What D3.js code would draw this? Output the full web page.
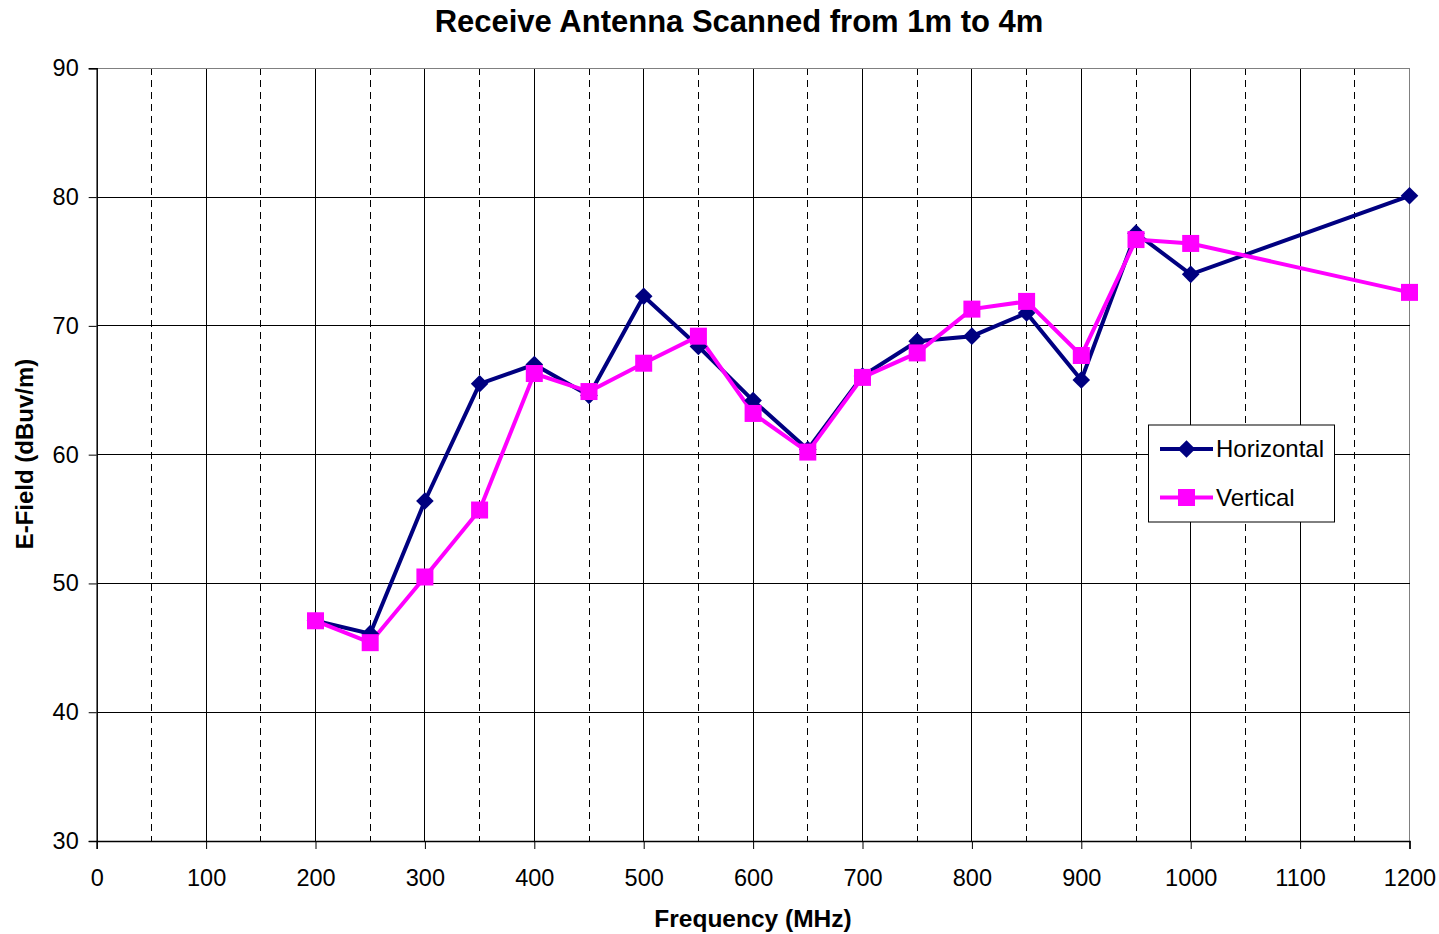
<!DOCTYPE html>
<html>
<head>
<meta charset="utf-8">
<script src="https://cdn.jsdelivr.net/npm/d3@7"></script>
<style>
  html, body { margin: 0; padding: 0; background: #fff; }
  svg { display: block; font-family: "Liberation Sans", Arial, sans-serif; }
</style>
</head>
<body>
<svg id="chart" width="1439" height="934"></svg>
<script>
// Measured field strength versus frequency, both antenna polarisations
const frequencies = [200, 250, 300, 350, 400, 450, 500, 550, 600, 650, 700, 750, 800, 850, 900, 950, 1000, 1200];
const horizontal  = [47.1, 46.1, 56.4, 65.5, 67.0, 64.6, 72.3, 68.4, 64.2, 60.4, 66.1, 68.8, 69.2, 71.0, 65.8, 77.2, 74.0, 80.1];
const vertical    = [47.1, 45.4, 50.5, 55.7, 66.3, 64.9, 67.1, 69.2, 63.2, 60.2, 66.0, 67.9, 71.3, 71.9, 67.7, 76.7, 76.4, 72.6];

const xTicks = [0, 100, 200, 300, 400, 500, 600, 700, 800, 900, 1000, 1100, 1200];
const xMidLines = [50, 150, 250, 350, 450, 550, 650, 750, 850, 950, 1050, 1150];
const yTicks = [30, 40, 50, 60, 70, 80, 90];

const seriesNames = ["Horizontal", "Vertical"];
const seriesColors = ["#000080", "#FF00FF"];

const svg = d3.select("#chart");
const plotLeft = 96.7, plotRight = 1409.5, plotTop = 68.3, plotBottom = 841;

const x = d3.scaleLinear().domain([0, 1200]).range([plotLeft, plotRight]);
const y = d3.scaleLinear().domain([30, 90]).range([plotBottom, plotTop]);

// Dashed half-step vertical grid
svg.append("g").selectAll("line").data(xMidLines).join("line")
  .attr("x1", d => x(d)).attr("x2", d => x(d))
  .attr("y1", plotTop).attr("y2", plotBottom)
  .attr("stroke", "#000").attr("stroke-width", 1)
  .attr("stroke-dasharray", "7,5")
  .attr("shape-rendering", "crispEdges");

// Solid vertical grid
svg.append("g").selectAll("line").data(xTicks.slice(1)).join("line")
  .attr("x1", d => x(d)).attr("x2", d => x(d))
  .attr("y1", plotTop).attr("y2", plotBottom)
  .attr("stroke", d => d === 1200 ? "#808080" : "#000").attr("stroke-width", 1)
  .attr("shape-rendering", "crispEdges");

// Horizontal grid
svg.append("g").selectAll("line").data(yTicks.slice(1)).join("line")
  .attr("x1", plotLeft).attr("x2", plotRight)
  .attr("y1", d => y(d)).attr("y2", d => y(d))
  .attr("stroke", d => d === 90 ? "#808080" : "#000").attr("stroke-width", 1)
  .attr("shape-rendering", "crispEdges");

// Axes
const xAxis = d3.axisBottom(x).tickValues(xTicks).tickSize(8).tickPadding(20).tickFormat(d3.format("d"));
const yAxis = d3.axisLeft(y).tickValues(yTicks).tickSize(8).tickPadding(10).tickFormat(d3.format("d"));

const gx = svg.append("g").attr("transform", `translate(0,${plotBottom})`).call(xAxis);
const gy = svg.append("g").attr("transform", `translate(${plotLeft},0)`).call(yAxis);
[gx, gy].forEach(g => {
  g.select(".domain").attr("stroke", "#000").attr("stroke-width", 1.5);
  g.selectAll(".tick line").attr("stroke", "#000").attr("stroke-width", 1);
  g.selectAll(".tick text").attr("fill", "#000")
    .style("font-family", "'Liberation Sans', Arial, sans-serif").style("font-size", "23.5px");
});

// Series lines and markers
const series = [horizontal, vertical];
const line = d3.line().x((d, i) => x(frequencies[i])).y(d => y(d));

series.forEach((vals, s) => {
  svg.append("path").datum(vals)
    .attr("d", line)
    .attr("fill", "none")
    .attr("stroke", seriesColors[s])
    .attr("stroke-width", 4)
    .attr("stroke-linejoin", "miter");
});

function drawMarker(g, s, cx, cy) {
  if (s === 0) {
    const r = 8.8;
    g.append("path")
      .attr("d", `M${cx},${cy - r}L${cx + r},${cy}L${cx},${cy + r}L${cx - r},${cy}Z`)
      .attr("fill", seriesColors[s]);
  } else {
    const h = 8.5;
    g.append("rect")
      .attr("x", cx - h).attr("y", cy - h)
      .attr("width", 2 * h).attr("height", 2 * h)
      .attr("fill", seriesColors[s]);
  }
}

series.forEach((vals, s) => {
  const g = svg.append("g");
  vals.forEach((v, i) => drawMarker(g, s, x(frequencies[i]), y(v)));
});

// Legend
const lg = svg.append("g");
lg.append("rect")
  .attr("x", 1148.5).attr("y", 425).attr("width", 186).attr("height", 97)
  .attr("fill", "#fff").attr("stroke", "#000").attr("stroke-width", 1);
const rowsY = [449, 497.5];
seriesNames.forEach((name, s) => {
  lg.append("line")
    .attr("x1", 1160).attr("x2", 1213)
    .attr("y1", rowsY[s]).attr("y2", rowsY[s])
    .attr("stroke", seriesColors[s]).attr("stroke-width", 4);
  drawMarker(lg, s, 1186.5, rowsY[s]);
  lg.append("text")
    .attr("x", 1216).attr("y", rowsY[s])
    .attr("dy", "0.35em")
    .style("font-size", "24px")
    .text(name);
});

// Titles
svg.append("text")
  .attr("x", 739).attr("y", 32)
  .attr("text-anchor", "middle")
  .style("font-size", "31px").style("font-weight", "bold")
  .text("Receive Antenna Scanned from 1m to 4m");

svg.append("text")
  .attr("x", 753).attr("y", 927)
  .attr("text-anchor", "middle")
  .style("font-size", "24.5px").style("font-weight", "bold")
  .text("Frequency (MHz)");

svg.append("text")
  .attr("transform", "translate(33,454) rotate(-90)")
  .attr("text-anchor", "middle")
  .style("font-size", "24px").style("font-weight", "bold")
  .text("E-Field (dBuv/m)");
</script>
</body>
</html>
